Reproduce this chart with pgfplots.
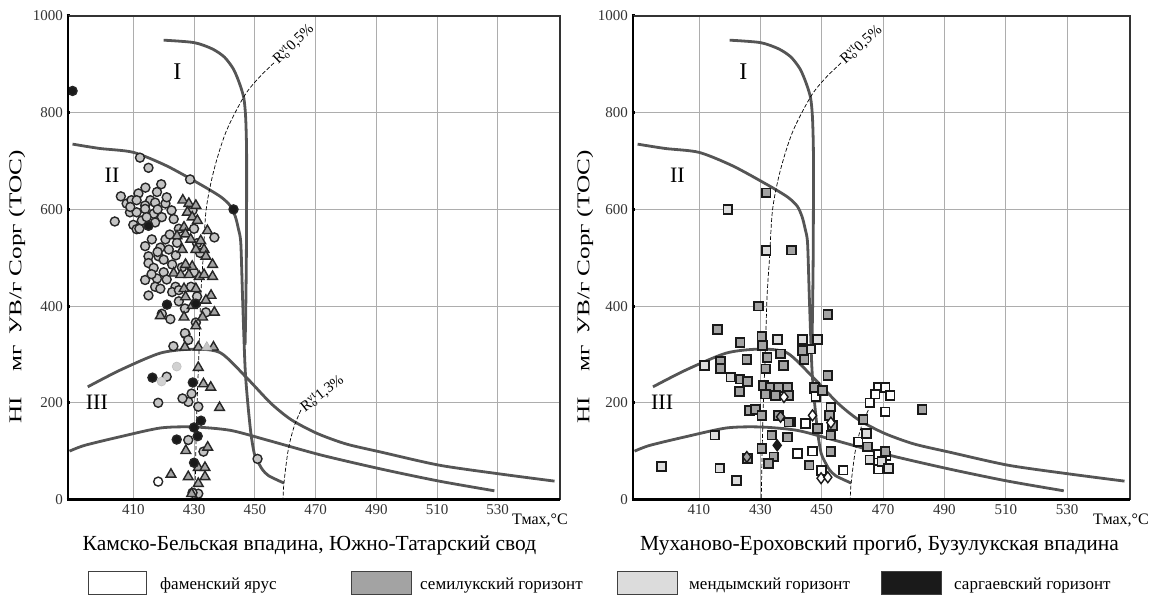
\documentclass[border=0pt]{standalone}
\usepackage{fontspec}
\setmainfont{Liberation Serif}
\usepackage{pgfplots}
\usepackage{pgfplotstable}
\pgfplotsset{compat=1.18}

\definecolor{curve}{HTML}{555555}
\definecolor{gA}{HTML}{A3A3A3}
\definecolor{gB}{HTML}{DCDCDC}
\definecolor{gC}{HTML}{C4C4C4}
\definecolor{blk}{HTML}{1A1A1A}

% ---------- reference curves ----------
\pgfplotstableread{
x y
420 950
430 945
436 932
440 915
443 890
445 860
446.4 830
447 790
447.3 720
447.3 600
447.2 480
447.0 380
446.8 320
}\curveI
\pgfplotstableread{
x y
390 735
399 726
410 718
421 690
432 652
438.8 626
442 607
443.6 585
444.6 560
445.4 530
446 413
446.8 274
447.6 206
448.7 138
449.8 96
450.9 80
452.5 62
454.6 49
459.6 34
}\curveII
\pgfplotstableread{
x y
395 233
405.8 268
419 303
430 311
438.8 303
447.6 250
455.3 199
462 165
470.4 137
480 115
491.6 98
510.7 71
530.5 53
548.7 38
}\curveIIIa
\pgfplotstableread{
x y
389 100
394 112
405.8 130
419 148
430 150
442 143
454 123
471.8 92
491.6 63
510.7 38
528.9 18
}\curveIIIb
\pgfplotstableread{
x y
456.3 903
451 870
446.4 833
440.5 760
436.5 680
434 600
433 500
432.2 420
431.6 300
431 200
430.6 100
430.3 0
}\RoA
\pgfplotstableread{
x y
465.2 185
462.9 150
461 102
459.6 34
459.3 0
}\RoB

% ---------- left panel data ----------
\pgfplotstableread{
x y
412.2 707
415 686
428.7 662
419.2 652
417.8 636
411.7 633
405.9 627
407.8 612
409.4 619
411.1 619
415.6 619
417.2 614
420.6 612
413.9 608
422.6 598
408.9 594
411.1 594
413.9 601
416.7 591
419.4 584
423.3 580
403.9 575
412.8 577
410 568
411.1 559
417.2 573
414.4 584
416.1 538
413.9 524
420.6 538
424.4 531
418.9 521
421.7 517
418.3 503
415 503
420 496
422.8 486
415 489
416.7 479
413.9 454
417.8 457
417.2 440
418.9 436
423.9 440
415 422
422.8 429
425 433
419.4 384
422.2 373
427.2 342
430.6 366
433.9 387
436.7 542
429.5 598
430 560
431 530
432 510
430 470
429 440
431 420
427 344
428.1 330
423.2 317
428.1 202
426.2 209
429.2 219
431.4 192
418.2 200
421 254
428.1 123
433.1 99
431.4 12
429.5 14
450.9 84
418 600
421 625
414 645
409 605
425 560
422 548
418 512
424 505
426 480
420 470
421 455
425 410
427 395
416 466
412 560
}\Lcirc
\pgfplotstableread{
x y
424.3 275
419.3 244
}\Lcircl
\pgfplotstableread{
x y
426.3 619
428.3 612
430.6 608
427.8 594
429.4 584
431.1 577
426.7 563
434.4 556
424.4 545
427.2 549
428.9 538
432.2 535
433.3 517
426.1 517
430.6 517
433.9 503
436.1 486
429.4 482
427.2 486
423.3 468
425.6 465
428.3 465
431.7 461
433.3 465
436.1 461
426.7 436
430.6 436
435.6 422
427.2 419
433.9 412
429.4 401
436.7 387
426.7 377
432.8 377
430.6 359
418.9 380
427 315
431.4 315
436.4 315
431.4 273
433.1 239
435.5 232
438.4 190
427.3 101
434.5 108
422.4 52
428.1 47
431.4 66
433.6 66
433.6 47
431.4 33
429.2 12
}\Ltri
\pgfplotstableread{
x y
434.2 315
}\Ltril
\pgfplotstableread{
x y
390 845
443 600
421.1 403
430.6 405
415 566
416.3 252
429.6 242
432.3 163
430 149
431.2 131
424.3 124
430 76
}\Lblack
\pgfplotstableread{
x y
418.2 37
}\Lwhite

% ---------- right panel data ----------
\pgfplotstableread{
x y
431.9 634
440.2 516
429.5 400
452 383
416 351
430.5 337
423.4 325
430.7 318
425.6 290
417 285
417 271
423.4 249
425.9 244
423.2 223
431.8 270
437.5 277
436.6 301
443.7 308
444.3 290
432.2 294
426.5 184
428.5 186
430.5 174
436 174
439.3 160
433.8 133
438.8 129
430.5 105
434.4 88
425.8 85
432.7 75
445.9 71
453 99
452 256
452.5 174
453.6 153
463.5 166
464.9 109
470.7 99
482.7 186
431.1 236
433.3 232
436 232
438.8 232
431.6 218
434.9 215
439.3 215
447.6 232
450.3 225
448.7 147
453 133
}\Rgray
\pgfplotstableread{
x y
419.4 600
431.9 515
411.9 277
420.4 253
415.2 133
397.8 68
416.8 65
422.3 39
435.5 331
443.7 331
446.5 311
448.7 331
439.9 160
453 191
464.6 136
469.6 78
471.8 64
465.7 82
}\Rlight
\pgfplotstableread{
x y
442.1 95
457 61
461.9 119
468.5 232
470.7 232
467.4 218
472.3 215
465.7 200
470.7 181
444.8 157
447.6 229
448.1 212
468.5 94
471 90
468.5 63
450 60
447 100
}\Rwhite
\pgfplotstableread{
x y
437.7 212
447 174
453 159
449.8 44
452 46
}\Rdwhite
\pgfplotstableread{
x y
425.6 88
436.6 171
}\Rdgray
\pgfplotstableread{
x y
435.5 112
}\Rdblack

\pgfplotsset{
  panel/.style={
    scale only axis, height=483.5pt,
    xmin=388.5, xmax=550.5, ymin=0, ymax=1000,
    xtick={410,430,...,530}, ytick={0,200,...,1000},
    yticklabels={0\hspace{7pt},200,400,600,800,1000},
    grid=major, grid style={black!32, line width=0.9pt},
    axis line style={draw=none},
    tick pos=left, major tick length=3pt, tick align=center,
    tick style={line width=3pt, black},
    ticklabel style={font=\fontsize{15}{15}\selectfont, text=black!80},
    /pgf/number format/assume math mode=true,
    /pgf/number format/1000 sep={},
    clip mode=individual,
  },
  curv/.style={color=curve, line width=2.8pt, smooth, tension=0.45, no markers},
  dashR/.style={black, line width=0.7pt, dash pattern=on 4pt off 2pt, smooth, no markers},
  mcirc/.style={only marks, mark=*, mark size=4.5pt, mark options={fill=#1, draw=black!85, line width=1.4pt}},
  mtri/.style={only marks, mark=triangle*, mark size=5.6pt, mark options={fill=#1, draw=black!85, line width=1.4pt}},
  msq/.style={only marks, mark=square*, mark size=4.4pt, mark options={fill=#1, draw=black!90, line width=1.8pt}},
  mdia/.style={only marks, mark=diamond*, mark size=5.4pt, mark options={fill=#1, draw=black!90, line width=1.4pt}},
}

\newcommand{\Ro}[1]{R\rlap{\textsubscript{o}}\textsuperscript{vt}#1}
\newcommand{\HIlabel}{\scalebox{1.4}[1]{HI\hspace{18pt}мг\hspace{8pt}УВ/г Сорг (ТОС)}}

\begin{document}
\begin{tikzpicture}[x=1pt,y=1pt]
\path[use as bounding box] (0,0) rectangle (1164,595);

% ===== left panel =====
\begin{axis}[panel, name=L, width=492pt, at={(68pt,95.5pt)}, anchor=south west]
\addplot[curv] table {\curveI};
\addplot[curv] table {\curveII};
\addplot[curv] table {\curveIIIa};
\addplot[curv] table {\curveIIIb};
\addplot[dashR] table {\RoA};
\addplot[dashR] table {\RoB};
\addplot[mcirc=gC] table {\Lcirc};
\addplot[only marks, mark=*, mark size=4.5pt, mark options={fill=black!18, draw=black!25, line width=0.6pt}] table {\Lcircl};
\addplot[mtri=gA] table {\Ltri};
\addplot[only marks, mark=triangle*, mark size=5.6pt, mark options={fill=black!22, draw=black!30, line width=0.6pt}] table {\Ltril};
\addplot[mcirc=blk] table {\Lblack};
\addplot[mcirc=white] table {\Lwhite};
\node[font=\fontsize{24}{24}\selectfont] at (axis cs:424.5,885) {I};
\node[font=\fontsize{22}{22}\selectfont] at (axis cs:403,671) {II};
\node[font=\fontsize{22}{22}\selectfont] at (axis cs:398,202) {III};
\node[font=\fontsize{15}{15}\selectfont, rotate=44, anchor=west, inner sep=1pt] at (axis cs:456.5,904) {\Ro{0,5\%}};
\node[font=\fontsize{15}{15}\selectfont, rotate=38, anchor=west, inner sep=1pt] at (axis cs:465.4,186) {\Ro{1,3\%}};
\end{axis}

% ===== right panel =====
\begin{axis}[panel, name=R, width=497pt, at={(633pt,95.5pt)}, anchor=south west]
\addplot[curv] table {\curveI};
\addplot[curv] table {\curveII};
\addplot[curv] table {\curveIIIa};
\addplot[curv] table {\curveIIIb};
\addplot[dashR] table {\RoA};
\addplot[dashR] table {\RoB};
\addplot[msq=white] table {\Rwhite};
\addplot[msq=gB] table {\Rlight};
\addplot[msq=gA] table {\Rgray};
\addplot[mdia=white] table {\Rdwhite};
\addplot[mdia=gA] table {\Rdgray};
\addplot[mdia=blk] table {\Rdblack};
\node[font=\fontsize{24}{24}\selectfont] at (axis cs:424.5,885) {I};
\node[font=\fontsize{22}{22}\selectfont] at (axis cs:403,671) {II};
\node[font=\fontsize{22}{22}\selectfont] at (axis cs:398,202) {III};
\node[font=\fontsize{15}{15}\selectfont, rotate=42, anchor=west, inner sep=1pt] at (axis cs:456.5,904) {\Ro{0,5\%}};
\end{axis}

% frames
\foreach \n in {L,R}{
  \draw[black!80, line width=1.8pt] (\n.north west) -- (\n.north east) -- (\n.south east);
  \draw[black, line width=2.8pt] (\n.north west) -- (\n.south west) -- (\n.south east);
}

% axis titles
\node[rotate=90, anchor=east, inner sep=0pt, font=\fontsize{18}{18}\selectfont] at (17,445) {\HIlabel};
\node[rotate=90, anchor=east, inner sep=0pt, font=\fontsize{18}{18}\selectfont] at (585,445) {\HIlabel};
\node[font=\fontsize{16}{16}\selectfont] at (540,75) {Тмах,°С};
\node[font=\fontsize{16}{16}\selectfont] at (1121,75) {Тмах,°С};

% subtitles
\node[font=\fontsize{21.5}{21.5}\selectfont] at (309.5,50) {Камско-Бельская впадина, Южно-Татарский свод};
\node[font=\fontsize{21.5}{21.5}\selectfont] at (879.5,50) {Муханово-Ероховский прогиб, Бузулукская впадина};

% legend
\draw[black!75, line width=1pt, fill=white] (88,1) rectangle (146,24);
\node[anchor=base west, inner sep=0pt, font=\fontsize{17}{17}\selectfont] at (160,6) {фаменский ярус};
\draw[black!75, line width=1pt, fill=gA] (351,1) rectangle (411,24);
\node[anchor=base west, inner sep=0pt, font=\fontsize{17}{17}\selectfont] at (420,6) {семилукский горизонт};
\draw[black!75, line width=1pt, fill=gB] (617,1) rectangle (677,24);
\node[anchor=base west, inner sep=0pt, font=\fontsize{17}{17}\selectfont] at (689,6) {мендымский горизонт};
\draw[black!75, line width=1pt, fill=blk] (881,1) rectangle (941,24);
\node[anchor=base west, inner sep=0pt, font=\fontsize{17}{17}\selectfont] at (954,6) {саргаевский горизонт};
\end{tikzpicture}
\end{document}
